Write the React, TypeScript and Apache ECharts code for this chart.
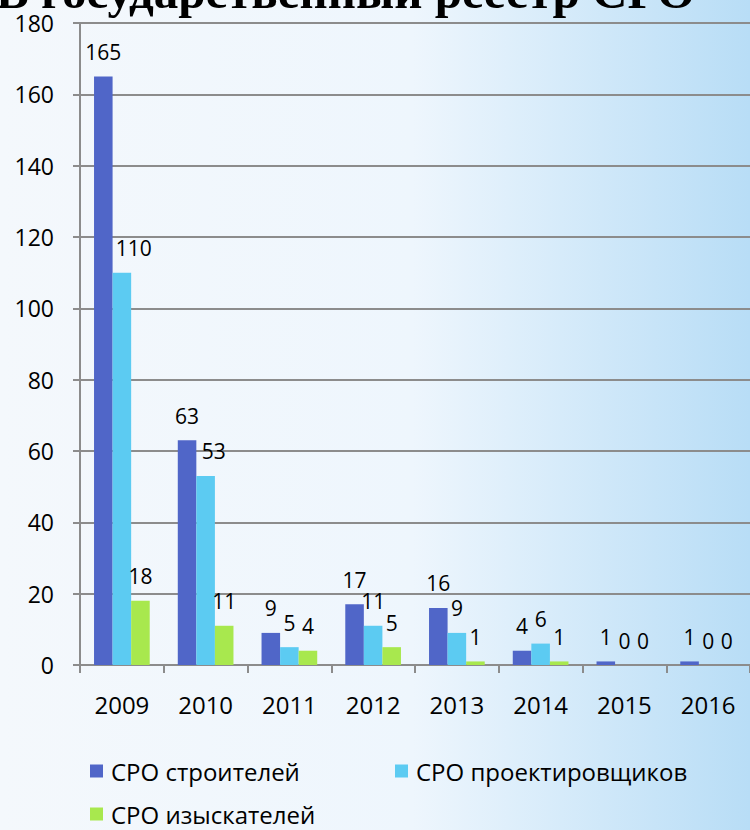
import React, { useEffect, useRef } from "react";
import * as echarts from "echarts";

const years = ["2009", "2010", "2011", "2012", "2013", "2014", "2015", "2016"];
const builders = [165, 63, 9, 17, 16, 4, 1, 1];
const designers = [110, 53, 5, 11, 9, 6, 0, 0];
const surveyors = [18, 11, 4, 5, 1, 1, 0, 0];
const seriesNames = ["СРО строителей", "СРО проектировщиков", "СРО изыскателей"];
const titleText = "В государственный реестр СРО";

const FONT = '"Open Sans", "Noto Sans", sans-serif';

// label nudges (style only): series index -> category index -> [dx, dy]
const labelNudge: Record<number, Record<number, number[]>> = {
  1: { 0: [12, 0], 1: [8, 0] },
};

export default function App() {
  const ref = useRef<HTMLDivElement>(null);
  useEffect(() => {
    if (!ref.current) return;
    const chart = echarts.init(ref.current, null, { renderer: "svg" });
    const colors = ["#5066C8", "#5CCBF2", "#A8E84E"];
    const mk = (si: number, data: number[]) => ({
      name: seriesNames[si],
      type: "bar",
      data: data.map((v, i) =>
        labelNudge[si] && labelNudge[si][i]
          ? { value: v, label: { offset: labelNudge[si][i] } }
          : v
      ),
      barGap: "0%",
      barCategoryGap: "33.5%",
      itemStyle: { color: colors[si] },
      label: {
        show: true,
        position: "top",
        distance: 14,
        color: "#000",
        fontFamily: FONT,
        fontSize: 21,
      },
    });
    const legendBase = {
      padding: 0,
      itemWidth: 13,
      itemHeight: 13,
      icon: "rect",
      textStyle: { fontFamily: FONT, fontSize: 24, color: "#000", padding: [0, 0, 0, 3] },
    };
    chart.setOption({
      animation: false,
      backgroundColor: {
        type: "linear",
        x: 0,
        y: 0,
        x2: 1,
        y2: 0,
        colorStops: [
          { offset: 0, color: "#f4f8fc" },
          { offset: 0.55, color: "#eef6fd" },
          { offset: 1, color: "#b8ddf6" },
        ],
      },
      color: colors,
      graphic: [
        {
          type: "text",
          x: -4,
          y: -9,
          style: {
            text: titleText,
            font: 'bold 49px "Liberation Serif", serif',
            fill: "#000",
            verticalAlign: "middle",
          },
        },
      ],
      legend: [
        { ...legendBase, data: [seriesNames[0]], left: 90, top: 759 },
        { ...legendBase, data: [seriesNames[1]], left: 395, top: 759 },
        { ...legendBase, data: [seriesNames[2]], left: 90, top: 802 },
      ],
      grid: { left: 80, right: -8, top: 23, bottom: 165, containLabel: false },
      xAxis: {
        type: "category",
        data: years,
        axisLine: { lineStyle: { color: "#8c8c8c", width: 2 } },
        axisTick: { show: true, length: 8, lineStyle: { color: "#8c8c8c", width: 2 } },
        axisLabel: { color: "#000", fontFamily: FONT, fontSize: 24, margin: 27 },
      },
      yAxis: {
        type: "value",
        min: 0,
        max: 180,
        interval: 20,
        axisLine: { show: true, lineStyle: { color: "#8c8c8c", width: 2 } },
        axisTick: { show: true, length: 7, lineStyle: { color: "#8c8c8c", width: 2 } },
        splitLine: { lineStyle: { color: "#8c8c8c", width: 2 } },
        axisLabel: { color: "#000", fontFamily: FONT, fontSize: 23, margin: 26 },
      },
      series: [mk(0, builders), mk(1, designers), mk(2, surveyors)],
    });
    return () => chart.dispose();
  }, []);
  return <div ref={ref} style={{ width: 750, height: 830, position: "fixed", left: 0, top: 0 }} />;
}
